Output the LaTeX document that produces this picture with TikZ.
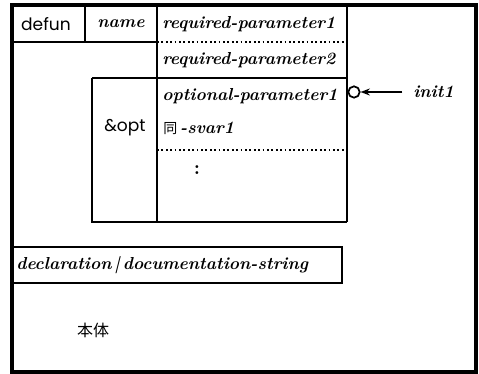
\documentclass[tikz,border=0pt]{standalone}
\usepackage{fontspec}
\newfontfamily\cjk{Noto Sans CJK JP}
\newfontfamily\geosans{Poppins}
\usepackage{tikz}
\usetikzlibrary{arrows.meta,positioning}

\tikzset{
  frame/.style={draw, line width=2.4pt},
  cell/.style={draw, line width=2.1pt},
  kw/.style={font=\geosans\fontsize{12.8}{14}\selectfont, inner sep=0pt},
  arg/.style={font=\itshape\bfseries\fontsize{13}{14}\selectfont, inner sep=0pt},
}

\begin{document}
\begin{tikzpicture}[x=0.75pt, y=-0.75pt]
    \useasboundingbox (0,0) rectangle (479,374);
    % outer frame
    \draw[frame] (12,5) rectangle (476,372);
    % defun / name row
    \draw[cell] (12,42) -- (157,42);
    \draw[cell] (85,5) -- (85,42);
    % parameter column and &opt box
    \draw[cell] (157,5) -- (157,222);
    \draw[cell] (347,5) -- (347,222);
    \draw[cell] (92,78) -- (347,78);
    \draw[cell] (92,78) -- (92,222) -- (347,222);
    \draw[line width=1.3pt, dotted] (157,42) -- (347,42);
    \draw[line width=1.3pt, dotted] (157,150) -- (347,150);
    % declaration box
    \draw[cell] (12,247) rectangle (342,283);

    \node[kw] (defun) at (46,24) {defun};
    \node[arg] (name) at (121,24) {name};
    \node[arg, anchor=west] (req1) at (162,24) {required-parameter1};
    \node[arg, anchor=west] (req2) at (162,60) {required-parameter2};
    \node[arg, anchor=west] (opt1) at (162,96) {optional-parameter1};
    \node[kw] (opt) at (125,128) {\&opt};
    \node[arg, anchor=west] (svar) at (163,128) {{\cjk\mdseries\upshape\fontsize{10.5}{12}\selectfont 同}\,-svar1};
    \node[font=\bfseries\fontsize{15}{15}\selectfont, inner sep=0pt] (dots) at (197,170) {:};
    \node[arg, anchor=west] (decl) at (16,265) {declaration\,|\,documentation-string};
    \node[font=\cjk\fontsize{12}{14}\selectfont, inner sep=0pt] (body) at (93,330) {本体};

    % init form pointing at the optional parameter
    \node[draw, circle, line width=1.3pt, minimum size=8.5pt, inner sep=0pt] (dot) at (354,92) {};
    \node[arg, anchor=west] (init) at (413,92) {init1};
    \draw[-{Stealth[length=7pt]}, line width=1.3pt] (init.west) ++(-8pt,0) coordinate (tail) (tail) -- (dot.east);
\end{tikzpicture}
\end{document}
